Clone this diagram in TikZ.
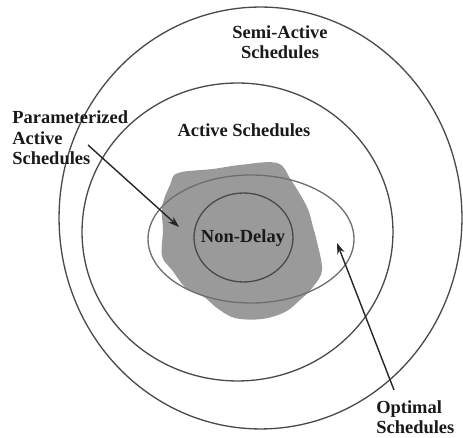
\documentclass[tikz,border=0pt]{standalone}
\usepackage{fontspec}
\setmainfont{Liberation Serif}
\usetikzlibrary{arrows.meta,shapes.geometric}
\definecolor{setline}{HTML}{4A4A4A}
\definecolor{optline}{HTML}{6E6E6E}
\definecolor{blobfill}{HTML}{9A9A9A}
\tikzset{
  setbox/.style={ellipse, draw=setline, line width=0.75pt, inner sep=0pt},
  lbl/.style={font=\fontsize{10.5}{11.6}\selectfont\bfseries, text=black!90, inner sep=0pt},
  pointer/.style={-{Stealth[length=2.2mm, width=1.5mm]}, line width=0.8pt, draw=black!85}
}

\begin{document}
\begin{tikzpicture}[x=0.02cm, y=-0.02cm]
  \useasboundingbox (0,0) rectangle (463,438);
  % parameterized active region
  \fill[blobfill] plot[smooth cycle, tension=0.6] coordinates {
    (178,173) (213,169) (240,165) (277,163) (291,180) (307,207)
    (313,227) (317,242) (322,270) (313,287) (300,300) (285,312)
    (262,319) (235,318) (217,308) (204,297) (186,288) (172,270)
    (162,256) (163,230) (162,207) (170,185)};
  % sets
  \node[setbox, minimum width=8.06cm, minimum height=8.44cm] (semi) at (260.5,218) {};
  \node[setbox, minimum width=6.22cm, minimum height=5.96cm] (act) at (237.5,232) {};
  \node[setbox, draw=optline, minimum width=4.12cm, minimum height=2.56cm] (opt) at (251,239) {};
  \node[setbox, minimum width=1.98cm, minimum height=1.78cm] (nd) at (243.5,237.5) {};
  % labels
  \node[lbl, align=center] (semilbl) at (280,42) {Semi-Active\\Schedules};
  \node[lbl] (actlbl) at (244,130) {Active Schedules};
  \node[lbl] (ndlbl) at (243,238) {Non-Delay};
  \node[lbl, align=left, anchor=west] (paramlbl) at (12,138) {Parameterized\\Active\\Schedules};
  \node[lbl, align=left, anchor=west] (optlbl) at (376,417) {Optimal\\Schedules};
  % pointers
  \coordinate (paramtail) at (88,145);
  \coordinate (paramhead) at (179,227);
  \coordinate (opttail) at (394,390);
  \coordinate (opthead) at (337,243);
  \draw[pointer] (paramtail) -- (paramhead);
  \draw[pointer] (opttail) -- (opthead);
\end{tikzpicture}
\end{document}
